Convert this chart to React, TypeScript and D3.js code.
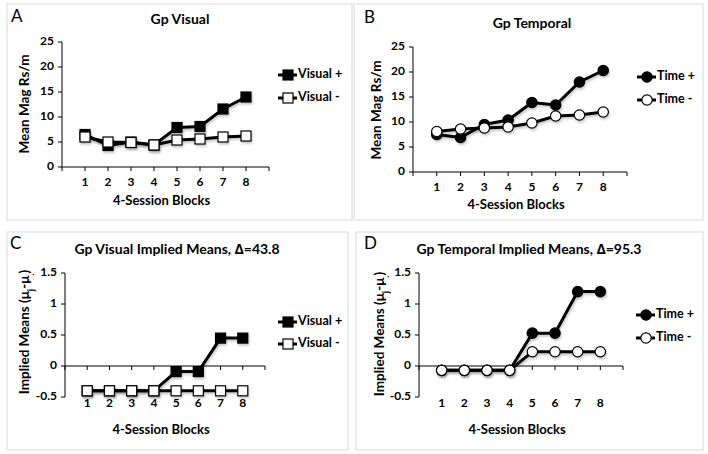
import React from 'react';
import * as d3 from 'd3';

const blocks = [1, 2, 3, 4, 5, 6, 7, 8];
const blockTicks = [0, 1, 2, 3, 4, 5, 6, 7, 8, 9];

const visualPlus = [6.5, 4.3, 5.0, 4.4, 7.9, 8.1, 11.6, 14.0];
const visualMinus = [6.0, 5.0, 4.9, 4.4, 5.4, 5.6, 6.0, 6.2];
const timePlus = [7.5, 6.9, 9.5, 10.4, 13.9, 13.4, 18.0, 20.3];
const timeMinus = [8.1, 8.6, 8.8, 9.0, 9.8, 11.2, 11.4, 12.0];

const impliedVisualPlus = [-0.4, -0.4, -0.4, -0.4, -0.09, -0.09, 0.45, 0.45];
const impliedVisualMinus = [-0.4, -0.4, -0.4, -0.4, -0.4, -0.4, -0.4, -0.4];
const impliedTimePlus = [-0.07, -0.07, -0.07, -0.07, 0.53, 0.53, 1.2, 1.2];
const impliedTimeMinus = [-0.07, -0.07, -0.07, -0.07, 0.23, 0.23, 0.23, 0.23];

const meanTicks = [0, 5, 10, 15, 20, 25];
const impliedTicks = [-0.5, 0, 0.5, 1, 1.5];

const FONT = 'Lato, "Open Sans", sans-serif';

const Marker = ({ shape, filled, x, y }) => {
    const fill = filled ? '#000' : '#fff';
    if (shape === 'square') {
        return <rect x={x - 5} y={y - 5} width={10} height={10} fill={fill} stroke="#000" strokeWidth={1.2} />;
    }
    return <circle cx={x} cy={y} r={5.2} fill={fill} stroke="#000" strokeWidth={1.2} />;
};

const YLabel = ({ implied }) => {
    if (!implied) return <>Mean Mag Rs/m</>;
    return (
        <>
            Implied Means (μ
            <tspan baselineShift="sub" fontSize="9">j</tspan>
            <tspan>-μ</tspan>
            <tspan baselineShift="sub" fontSize="9">.</tspan>
            <tspan>)</tspan>
        </>
    );
};

const Panel = ({ p }) => {
    const x = d3.scaleLinear().domain([0, 9]).range([p.left, p.right]);
    const y = d3.scaleLinear().domain(p.domain).range([p.bottom, p.top]);
    const axisY = y(p.baseline);
    const line = d3.line().x((d, i) => x(blocks[i])).y(d => y(d));

    return (
        <g fontFamily={FONT}>
            <rect x={p.frame[0]} y={p.frame[1]} width={p.frame[2]} height={p.frame[3]}
                fill="#fff" stroke="#d9d9d9" strokeWidth={1} />
            <text x={p.letterX} y={p.letterY} fontSize={17} fill="#000">{p.letter}</text>
            <text x={p.titleX} y={p.titleY} fontSize={14} fontWeight={700} textAnchor="middle"
                dominantBaseline="middle">{p.title}</text>

            {/* y axis */}
            <line x1={p.left} x2={p.left} y1={y(p.domain[0])} y2={y(p.domain[1])} stroke="#000" strokeWidth={1} />
            {p.ticks.map(t => (
                <g key={t}>
                    <line x1={p.left - 4} x2={p.left} y1={y(t)} y2={y(t)} stroke="#000" />
                    <text x={p.left - 8} y={y(t)} fontSize={12} fontWeight={700} textAnchor="end"
                        dominantBaseline="middle">{t}</text>
                </g>
            ))}

            {/* x axis */}
            <line x1={p.left} x2={p.right} y1={axisY} y2={axisY} stroke="#000" strokeWidth={1} />
            {blockTicks.map(t => (
                <line key={t} x1={x(t)} x2={x(t)} y1={axisY} y2={axisY + 4} stroke="#000" />
            ))}
            {blocks.map(b => (
                <text key={b} x={x(b)} y={p.catY} fontSize={12} fontWeight={700} textAnchor="middle"
                    dominantBaseline="middle">{b}</text>
            ))}
            <text x={(p.left + p.right) / 2 - 4} y={p.xLabelY} fontSize={13} fontWeight={700}
                textAnchor="middle" dominantBaseline="middle">4-Session Blocks</text>
            <text transform={`translate(${p.yLabelX},${p.yLabelY}) rotate(-90)`} fontSize={13.5}
                fontWeight={700} textAnchor="middle" dominantBaseline="middle">
                <YLabel implied={p.implied} />
            </text>

            {/* series */}
            {p.series.map((s, si) => (
                <g key={si} filter="url(#shadow)">
                    <path d={line(s.values)} fill="none" stroke="#000" strokeWidth={3} />
                    {s.values.map((v, i) => (
                        <Marker key={i} shape={p.shape} filled={s.filled} x={x(blocks[i])} y={y(v)} />
                    ))}
                </g>
            ))}

            {/* legend */}
            {p.series.map((s, si) => {
                const ly = p.legendY[si];
                return (
                    <g key={si}>
                        <line x1={p.legendX} x2={p.legendX + 19} y1={ly} y2={ly} stroke="#000" strokeWidth={3} />
                        <Marker shape={p.shape} filled={s.filled} x={p.legendX + 10} y={ly} />
                        <text x={p.legendX + 20} y={ly} fontSize={12.5} fontWeight={700}
                            dominantBaseline="middle">{s.name}</text>
                    </g>
                );
            })}
        </g>
    );
};

const panels = [
    {
        frame: [7, 4, 345, 216], letter: 'A', letterX: 11, letterY: 22,
        title: 'Gp Visual', titleX: 180, titleY: 20,
        left: 62, right: 269, top: 42, bottom: 167, domain: [0, 25], baseline: 0, ticks: meanTicks,
        catY: 183, xLabelY: 202, yLabelX: 26, yLabelY: 104, implied: false, shape: 'square',
        legendX: 278, legendY: [75, 98],
        series: [
            { name: 'Visual +', values: visualPlus, filled: true },
            { name: 'Visual -', values: visualMinus, filled: false },
        ],
    },
    {
        frame: [354, 4, 349, 216], letter: 'B', letterX: 364, letterY: 23,
        title: 'Gp Temporal', titleX: 532, titleY: 24,
        left: 413, right: 627, top: 47, bottom: 172, domain: [0, 25], baseline: 0, ticks: meanTicks,
        catY: 188, xLabelY: 206, yLabelX: 378, yLabelY: 110, implied: false, shape: 'circle',
        legendX: 637, legendY: [77, 100],
        series: [
            { name: 'Time +', values: timePlus, filled: true },
            { name: 'Time -', values: timeMinus, filled: false },
        ],
    },
    {
        frame: [7, 232, 341, 218], letter: 'C', letterX: 10, letterY: 249,
        title: 'Gp Visual Implied Means, \u2206=43.8', titleX: 177, titleY: 250,
        left: 65, right: 265, top: 273, bottom: 397, domain: [-0.5, 1.5], baseline: 0, ticks: impliedTicks,
        catY: 404, xLabelY: 431, yLabelX: 26, yLabelY: 332, implied: true, shape: 'square',
        legendX: 278, legendY: [322, 344],
        series: [
            { name: 'Visual +', values: impliedVisualPlus, filled: true },
            { name: 'Visual -', values: impliedVisualMinus, filled: false },
        ],
    },
    {
        frame: [356, 232, 347, 218], letter: 'D', letterX: 364, letterY: 249,
        title: 'Gp Temporal Implied Means, \u2206=95.3', titleX: 529, titleY: 250,
        left: 419, right: 623, top: 273, bottom: 397, domain: [-0.5, 1.5], baseline: 0, ticks: impliedTicks,
        catY: 404, xLabelY: 431, yLabelX: 381, yLabelY: 334, implied: true, shape: 'circle',
        legendX: 636, legendY: [315, 338],
        series: [
            { name: 'Time +', values: impliedTimePlus, filled: true },
            { name: 'Time -', values: impliedTimeMinus, filled: false },
        ],
    },
];

export default function App() {
    return (
        <svg width={708} height={454} style={{ position: 'absolute', left: 0, top: 0, background: '#fff' }}>
            <defs>
                <filter id="shadow" x="-10%" y="-10%" width="130%" height="140%">
                    <feDropShadow dx="1" dy="2" stdDeviation="1" floodColor="#000" floodOpacity="0.22" />
                </filter>
            </defs>
            <rect width={708} height={454} fill="#fff" />
            {panels.map((p, i) => <Panel key={i} p={p} />)}
        </svg>
    );
}
